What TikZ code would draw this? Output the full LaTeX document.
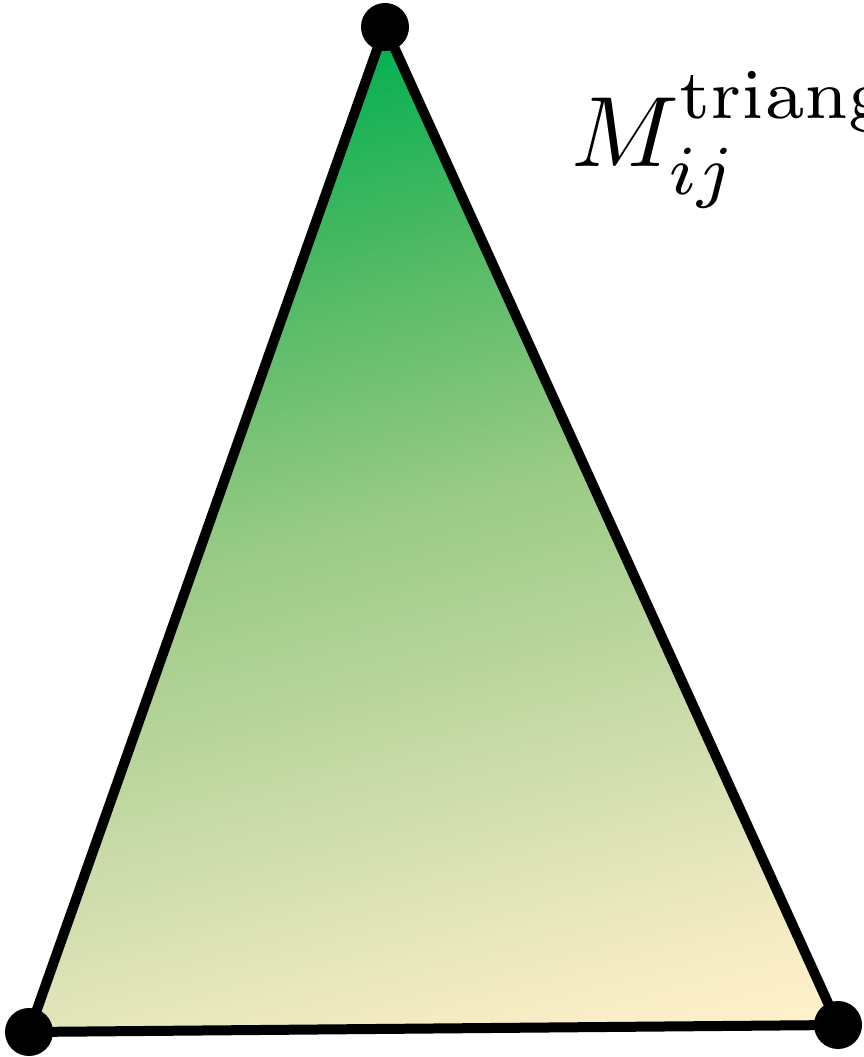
\documentclass[tikz,border=0pt]{standalone}
\definecolor{s0}{RGB}{0,176,80}
\definecolor{s1}{RGB}{80,185,100}
\definecolor{s2}{RGB}{154,203,133}
\definecolor{s3}{RGB}{190,215,160}
\definecolor{s4}{RGB}{225,228,185}
\definecolor{s5}{RGB}{245,235,195}
\definecolor{s6}{RGB}{255,242,204}
\pgfdeclareverticalshading{trishade}{100bp}{color(0bp)=(s6); color(25bp)=(s6); color(30bp)=(s5); color(35bp)=(s4); color(44bp)=(s3); color(53bp)=(s2); color(64.5bp)=(s1); color(75bp)=(s0); color(100bp)=(s0)}
\tikzset{
  vertex/.style={circle, fill=black, inner sep=0pt, minimum size=48pt},
  edge/.style={draw=black, line width=10pt, line join=round},
}
\begin{document}
\begin{tikzpicture}[x=1pt,y=1pt]
\useasboundingbox (0,0) rectangle (864,1057);
\coordinate (T) at (385,1030);
\coordinate (BL) at (29,25);
\coordinate (BR) at (838,32);
\begin{scope}
  \clip (T) -- (BL) -- (BR) -- cycle;
  \shade[transform canvas={rotate=15}, shading=trishade] (-200,-186) rectangle (1100,895);
\end{scope}
\draw[edge] (T) -- (BL) -- (BR) -- cycle;
\node[vertex] (vT) at (T) {};
\node[vertex] (vBL) at (BL) {};
\node[vertex] (vBR) at (BR) {};
\node[anchor=base west, inner sep=0pt] (lbl) at (571,890) {\scalebox{10}{$M_{ij}^{\mathrm{triangle}}$}};
\end{tikzpicture}
\end{document}
